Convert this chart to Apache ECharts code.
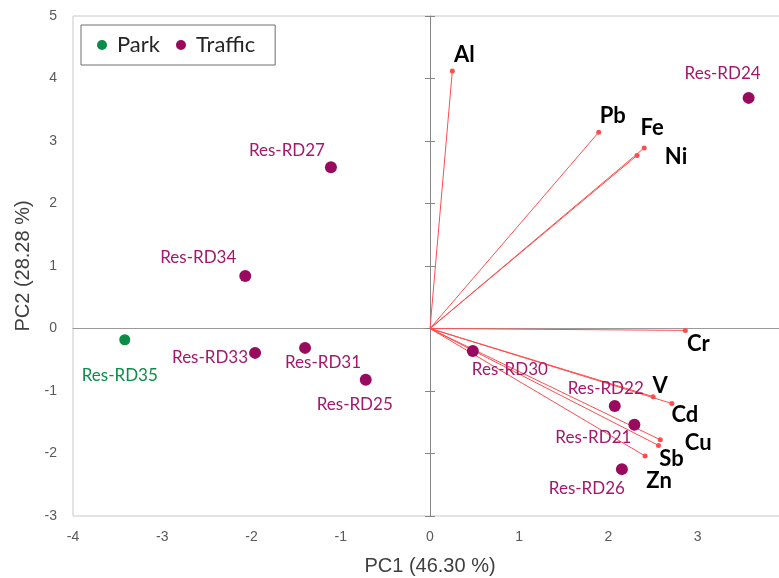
<!DOCTYPE html>
<html>
<head>
<meta charset="utf-8">
<script src="https://cdn.jsdelivr.net/npm/echarts@6/dist/echarts.min.js"></script>
<style>
html, body { margin: 0; padding: 0; background: #fff; }
#chart { width: 779px; height: 578px; }
</style>
</head>
<body>
<div id="chart"></div>
<script>
// sample scores
const parkNames = ['Res-RD35'];
const parkPC1 = [-3.42];
const parkPC2 = [-0.18];

const trafficNames = ['Res-RD34', 'Res-RD27', 'Res-RD33', 'Res-RD31', 'Res-RD25', 'Res-RD30', 'Res-RD22', 'Res-RD21', 'Res-RD26', 'Res-RD24'];
const trafficPC1 = [-2.07, -1.11, -1.96, -1.40, -0.72, 0.48, 2.07, 2.29, 2.15, 3.57];
const trafficPC2 = [0.84, 2.58, -0.39, -0.31, -0.82, -0.36, -1.24, -1.54, -2.25, 3.69];

// element loadings
const loadingNames = ['Al', 'Pb', 'Fe', 'Ni', 'Cr', 'V', 'Cd', 'Cu', 'Sb', 'Zn'];
const loadingPC1 = [0.25, 1.89, 2.40, 2.32, 2.86, 2.50, 2.71, 2.58, 2.56, 2.41];
const loadingPC2 = [4.12, 3.14, 2.89, 2.77, -0.03, -1.09, -1.20, -1.78, -1.87, -2.04];

// label placement (px, relative to the point)
const labelOffset = {
    'Res-RD35': [-5, 36], 'Res-RD34': [-47, -18], 'Res-RD27': [-44, -17],
    'Res-RD33': [-45, 5], 'Res-RD31': [18, 15], 'Res-RD25': [-11, 25],
    'Res-RD30': [37, 19], 'Res-RD22': [-9, -17], 'Res-RD21': [-41, 13],
    'Res-RD26': [-35, 19], 'Res-RD24': [-26, -24],
    'Al': [12, -16], 'Pb': [14, -16], 'Fe': [8, -20], 'Ni': [39, 2], 'Cr': [13, 14],
    'V': [7, -11], 'Cd': [13, 11], 'Cu': [38, 3], 'Sb': [13, 14], 'Zn': [14, 25]
};

const parkColor = '#0B8C47';
const trafficColor = '#990A5E';
const vectorColor = '#FF4D4D';
const axisFont = 'Liberation Sans';
const labelFont = 'Lato';

function points(names, xs, ys) {
    return names.map(function (n, i) {
        return { name: n, value: [xs[i], ys[i]], label: { offset: labelOffset[n] } };
    });
}

let myChart = echarts.init(document.getElementById('chart'));

let option = {
    animation: false,
    legend: {
        data: ['Park', 'Traffic'],
        left: 81,
        top: 25,
        padding: [9, 20, 9, 16],
        itemGap: 16,
        itemWidth: 20,
        itemHeight: 10,
        icon: 'circle',
        borderColor: '#6E6E6E',
        borderWidth: 1,
        backgroundColor: '#fff',
        textStyle: { fontFamily: labelFont, fontSize: 22, color: '#262626' }
    },
    grid: {
        left: 73, top: 16, right: -8, bottom: 62,
        show: true, borderColor: '#C8C8C8', borderWidth: 1,
        containLabel: false,
        outerBoundsMode: 'none'
    },
    xAxis: [
        {
            type: 'value', min: -4, max: 4, interval: 1, position: 'bottom',
            axisLine: { show: false, onZero: false },
            axisTick: { show: false },
            splitLine: { show: false },
            axisLabel: { margin: 14, fontSize: 14, color: '#595959', fontFamily: axisFont },
            name: 'PC1 (46.30 %)', nameLocation: 'middle', nameGap: 40,
            nameTextStyle: { fontSize: 20, color: '#404040', fontFamily: axisFont }
        },
        {
            type: 'value', min: -4, max: 4, interval: 1, position: 'bottom',
            axisLine: { show: true, onZero: true, onZeroAxisIndex: 0, lineStyle: { color: '#9A9A9A', width: 1 } },
            axisTick: { show: false },
            axisLabel: { show: false },
            splitLine: { show: false }
        }
    ],
    yAxis: [
        {
            type: 'value', min: -3, max: 5, interval: 1, position: 'left',
            axisLine: { show: false, onZero: false },
            axisTick: { show: false },
            splitLine: { show: false },
            axisLabel: { margin: 16, fontSize: 14, color: '#595959', fontFamily: axisFont },
            name: 'PC2 (28.28 %)', nameLocation: 'middle', nameGap: 40,
            nameTextStyle: { fontSize: 20, color: '#404040', fontFamily: axisFont }
        },
        {
            type: 'value', min: -3, max: 5, interval: 1, position: 'left',
            axisLine: { show: true, onZero: true, onZeroAxisIndex: 0, lineStyle: { color: '#868686', width: 1 } },
            axisTick: { show: true, length: 5, lineStyle: { color: '#868686' } },
            axisLabel: { show: false },
            splitLine: { show: false }
        },
        {
            type: 'value', min: -3, max: 5, interval: 1, position: 'left',
            axisLine: { show: false, onZero: true, onZeroAxisIndex: 0 },
            axisTick: { show: true, inside: true, length: 5, lineStyle: { color: '#868686' } },
            axisLabel: { show: false },
            splitLine: { show: false }
        }
    ],
    series: [
        {
            name: 'vectors',
            type: 'lines',
            coordinateSystem: 'cartesian2d',
            silent: true,
            z: 2,
            lineStyle: { color: vectorColor, width: 1, opacity: 1 },
            data: loadingNames.map(function (n, i) {
                return { coords: [[0, 0], [loadingPC1[i], loadingPC2[i]]] };
            })
        },
        {
            name: 'loadings',
            type: 'scatter',
            symbolSize: 5,
            z: 3,
            itemStyle: { color: vectorColor, opacity: 1 },
            label: {
                show: true, position: 'inside', formatter: '{b}',
                fontFamily: labelFont, fontWeight: 'bold', fontSize: 22, color: '#000'
            },
            data: points(loadingNames, loadingPC1, loadingPC2)
        },
        {
            name: 'Park',
            type: 'scatter',
            symbolSize: 11,
            z: 4,
            itemStyle: { color: parkColor, opacity: 1 },
            label: {
                show: true, position: 'inside', formatter: '{b}',
                fontFamily: labelFont, fontSize: 17, color: parkColor
            },
            data: points(parkNames, parkPC1, parkPC2)
        },
        {
            name: 'Traffic',
            type: 'scatter',
            symbolSize: 12,
            z: 4,
            itemStyle: { color: trafficColor, opacity: 1 },
            label: {
                show: true, position: 'inside', formatter: '{b}',
                fontFamily: labelFont, fontSize: 17, color: '#A3186B'
            },
            data: points(trafficNames, trafficPC1, trafficPC2)
        }
    ]
};
myChart.setOption(option);
</script>
</body>
</html>
